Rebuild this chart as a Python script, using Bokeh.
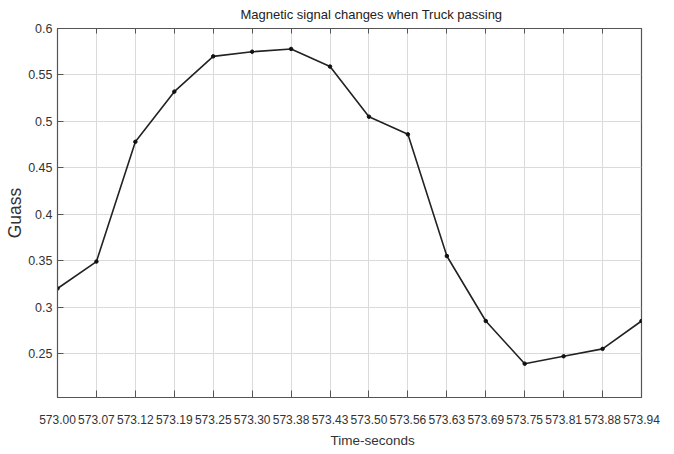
from bokeh.plotting import figure
from bokeh.models import Range1d, FixedTicker, LinearAxis, Title
from bokeh.embed import file_html
from bokeh.resources import INLINE

# ---- data ----
time_labels = ["573.00", "573.07", "573.12", "573.19", "573.25", "573.30", "573.38", "573.43",
               "573.50", "573.56", "573.63", "573.69", "573.75", "573.81", "573.88", "573.94"]
gauss = [0.320, 0.349, 0.478, 0.532, 0.570, 0.575, 0.578, 0.559,
         0.505, 0.486, 0.355, 0.285, 0.239, 0.247, 0.255, 0.285]
y_ticks = [0.25, 0.3, 0.35, 0.4, 0.45, 0.5, 0.55, 0.6]
y_tick_labels = ["0.25", "0.3", "0.35", "0.4", "0.45", "0.5", "0.55", "0.6"]

title_text = "Magnetic signal changes when Truck passing"
x_label = "Time-seconds"
y_label = "Guass"

idx = list(range(len(time_labels)))

FONT = "'Liberation Sans', Arial, sans-serif"
TXT = "#333333"
BOX = "#555555"

p = figure(width=674, height=454, output_backend="svg", toolbar_location=None,
           x_range=Range1d(0, len(time_labels) - 1), y_range=Range1d(0.2026, 0.6),
           min_border_left=57, min_border_right=33, min_border_top=28, min_border_bottom=57,
           background_fill_color="white", border_fill_color="white")
p.title.visible = False

p.outline_line_color = BOX
p.outline_line_width = 1.2

# x axis (bottom)
xa = p.xaxis[0]
xa.ticker = FixedTicker(ticks=idx)
xa.major_label_overrides = {i: lab for i, lab in zip(idx, time_labels)}
xa.major_label_text_font = FONT
xa.major_label_text_font_size = "12px"
xa.major_label_text_color = TXT
xa.major_label_standoff = 17
xa.major_tick_in = 7
xa.major_tick_out = 0
xa.minor_tick_in = 0
xa.minor_tick_out = 0
xa.axis_line_color = BOX
xa.major_tick_line_color = BOX

# y axis (left)
ya = p.yaxis[0]
ya.ticker = FixedTicker(ticks=y_ticks)
ya.major_label_overrides = {v: s for v, s in zip(y_ticks, y_tick_labels)}
ya.major_label_text_font = FONT
ya.major_label_text_font_size = "12.5px"
ya.major_label_text_color = TXT
ya.major_label_standoff = 5
ya.major_tick_in = 6
ya.major_tick_out = 0
ya.minor_tick_in = 0
ya.minor_tick_out = 0
ya.axis_line_color = BOX
ya.major_tick_line_color = BOX
ya.axis_label = y_label
ya.axis_label_text_font = FONT
ya.axis_label_text_font_style = "normal"
ya.axis_label_text_font_size = "17.5px"
ya.axis_label_text_color = TXT
ya.axis_label_standoff = 0

# top axis: tick marks only
top = LinearAxis(ticker=FixedTicker(ticks=idx), major_label_text_font_size="0px",
                 major_label_text_alpha=0, major_label_standoff=0,
                 major_tick_in=5, major_tick_out=0, minor_tick_in=0, minor_tick_out=0,
                 axis_line_color=BOX, major_tick_line_color=BOX)
p.add_layout(top, "above")

# grid
p.xgrid.ticker = FixedTicker(ticks=idx)
p.ygrid.ticker = FixedTicker(ticks=y_ticks)
for g in (p.xgrid[0], p.ygrid[0]):
    g.grid_line_color = "#dadada"
    g.grid_line_width = 1

# data
p.line(idx, gauss, line_color="#222222", line_width=1.6)
p.scatter(idx, gauss, size=3.5, fill_color="#111111", line_color="#111111")

# title and x label as offset titles
p.add_layout(Title(text=title_text, align="left", offset=183, standoff=10,
                   vertical_align="top",
                   text_font=FONT, text_font_size="13px", text_font_style="normal",
                   text_color="#222222"), "above")
p.add_layout(Title(text=x_label, align="left", offset=273, standoff=8,
                   text_font=FONT, text_font_size="13.5px", text_font_style="normal",
                   text_color=TXT), "below")

open("out.html", "w").write(file_html(p, INLINE))
